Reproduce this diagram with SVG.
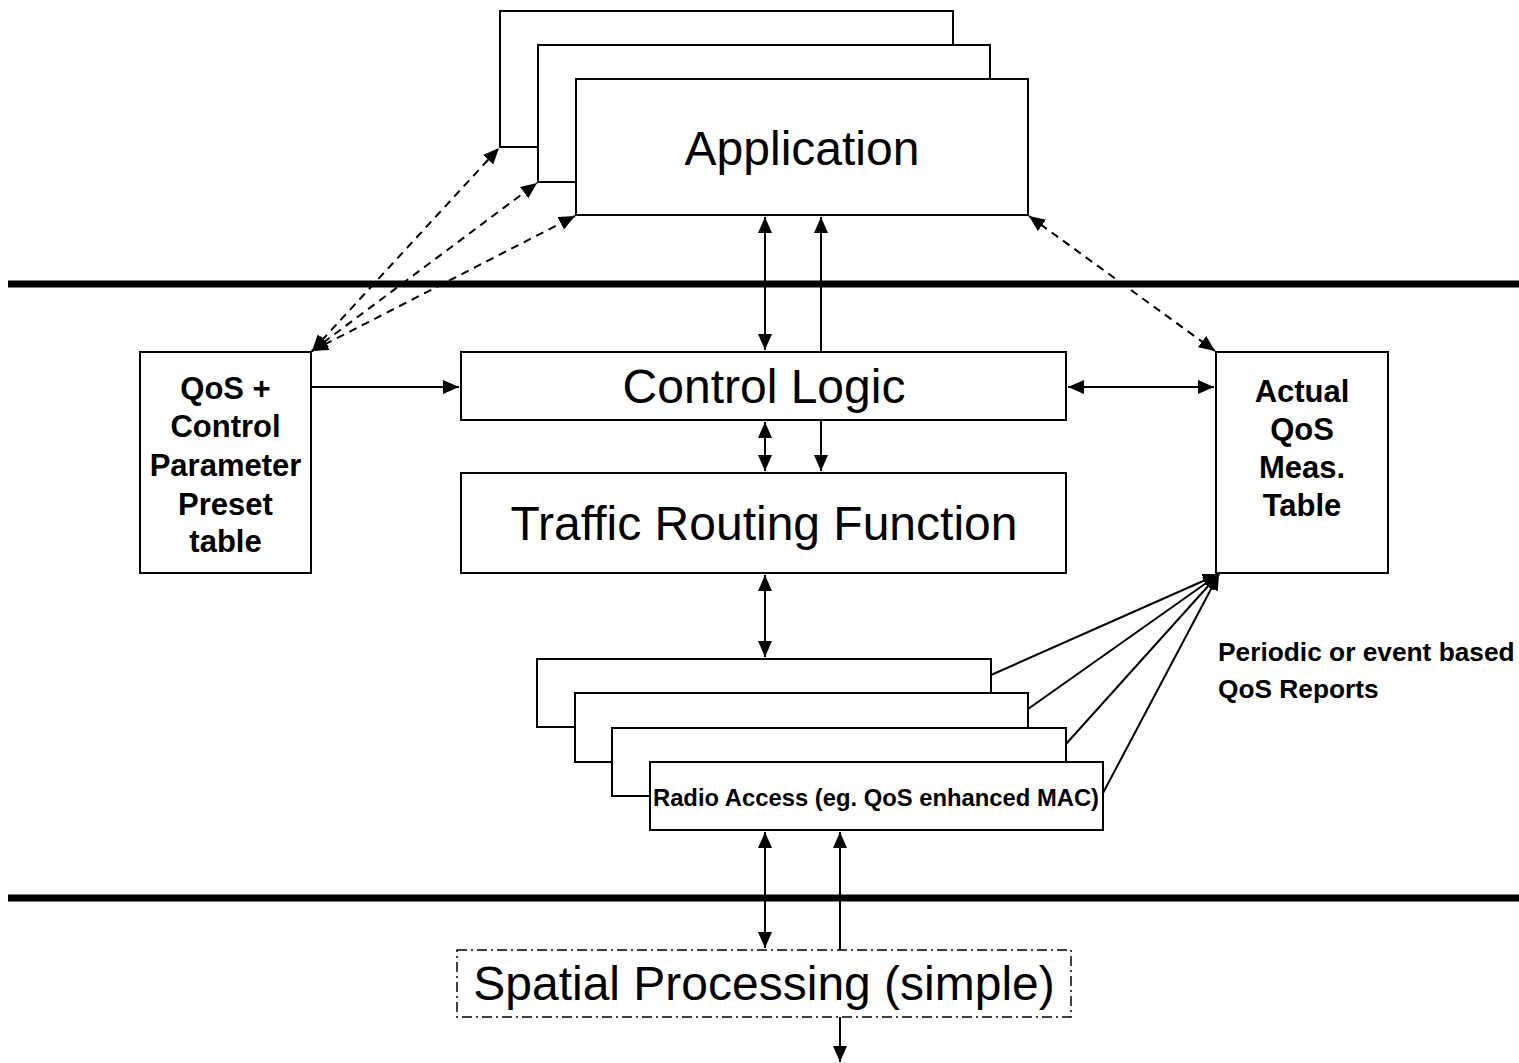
<svg xmlns="http://www.w3.org/2000/svg" width="1519" height="1063" viewBox="0 0 1519 1063">
<style>
.box{fill:#fff;stroke:#000;stroke-width:2}
.dbox{fill:#fff;stroke:#000;stroke-width:1.5;stroke-dasharray:10 4 2 4}
.big{font-family:"Liberation Sans",Arial,sans-serif;font-size:48px;text-anchor:middle;fill:#000}
.bold{font-family:"Liberation Sans",Arial,sans-serif;font-weight:bold;fill:#000}
.ln{fill:none;stroke:#000;stroke-width:2}
.dash{fill:none;stroke:#000;stroke-width:2;stroke-dasharray:8 6}
.bar{stroke:#000;stroke-width:7}
</style>
<defs>
<marker id="ah" markerUnits="userSpaceOnUse" markerWidth="18" markerHeight="16" refX="16" refY="7" orient="auto-start-reverse">
<path d="M0,0 L16,7 L0,14 z" fill="#000"/>
</marker>
</defs>
<g id="layers">
<line class="bar" x1="8" y1="284" x2="1519" y2="284"/>
<line class="bar" x1="8" y1="898" x2="1519" y2="898"/>
</g>
<g id="application">
<rect class="box" x="500" y="11" width="453" height="136"/>
<rect class="box" x="538" y="45" width="452" height="137"/>
<rect class="box" x="576" y="79" width="452" height="136"/>
<text class="big" x="802" y="165">Application</text>
</g>
<g id="qos-preset">
<rect class="box" x="140" y="352" width="171" height="221"/>
<text class="bold" font-size="31" text-anchor="middle"><tspan x="225.5" y="399">QoS +</tspan><tspan x="225.5" y="437">Control</tspan><tspan x="225.5" y="476">Parameter</tspan><tspan x="225.5" y="515">Preset</tspan><tspan x="225.5" y="552">table</tspan></text>
</g>
<g id="control-logic">
<rect class="box" x="461" y="352" width="605" height="68"/>
<text class="big" x="764" y="403">Control Logic</text>
</g>
<g id="traffic-routing">
<rect class="box" x="461" y="473" width="605" height="100"/>
<text class="big" x="764" y="540">Traffic Routing Function</text>
</g>
<g id="actual-qos">
<rect class="box" x="1216" y="352" width="172" height="221"/>
<text class="bold" font-size="31" text-anchor="middle"><tspan x="1302" y="402">Actual</tspan><tspan x="1302" y="440">QoS</tspan><tspan x="1302" y="478">Meas.</tspan><tspan x="1302" y="516">Table</tspan></text>
</g>
<g id="radio-access">
<rect class="box" x="537" y="659" width="454" height="68"/>
<rect class="box" x="575" y="693" width="453" height="69"/>
<rect class="box" x="612" y="728" width="454" height="68"/>
<rect class="box" x="650" y="762" width="453" height="68"/>
<text class="bold" font-size="23.8" x="876" y="806" text-anchor="middle">Radio Access (eg. QoS enhanced MAC)</text>
</g>
<g id="qos-reports-label">
<text class="bold" font-size="26.3"><tspan x="1218" y="661">Periodic or event based</tspan><tspan x="1218" y="698">QoS Reports</tspan></text>
</g>
<g id="spatial">
<rect class="dbox" x="457" y="950" width="614" height="67"/>
<text class="big" x="764" y="1000">Spatial Processing (simple)</text>
</g>
<g id="connectors">
<line class="ln" x1="765" y1="217" x2="765" y2="350" marker-start="url(#ah)" marker-end="url(#ah)"/>
<line class="ln" x1="821" y1="352" x2="821" y2="217" marker-end="url(#ah)"/>
<line class="ln" x1="765" y1="422" x2="765" y2="471" marker-start="url(#ah)" marker-end="url(#ah)"/>
<line class="ln" x1="821" y1="420" x2="821" y2="471" marker-end="url(#ah)"/>
<line class="ln" x1="765" y1="575" x2="765" y2="657" marker-start="url(#ah)" marker-end="url(#ah)"/>
<line class="ln" x1="765" y1="832" x2="765" y2="948" marker-start="url(#ah)" marker-end="url(#ah)"/>
<line class="ln" x1="840" y1="950" x2="840" y2="832" marker-end="url(#ah)"/>
<line class="ln" x1="840" y1="1017" x2="840" y2="1062" marker-end="url(#ah)"/>
<line class="ln" x1="311" y1="387" x2="459" y2="387" marker-end="url(#ah)"/>
<line class="ln" x1="1068" y1="387" x2="1214" y2="387" marker-start="url(#ah)" marker-end="url(#ah)"/>
<line class="dash" x1="312" y1="351" x2="499" y2="148" marker-start="url(#ah)" marker-end="url(#ah)"/>
<line class="dash" x1="312" y1="351" x2="537" y2="183" marker-start="url(#ah)" marker-end="url(#ah)"/>
<line class="dash" x1="312" y1="351" x2="575" y2="216" marker-start="url(#ah)" marker-end="url(#ah)"/>
<line class="dash" x1="1029" y1="216" x2="1215" y2="351" marker-start="url(#ah)" marker-end="url(#ah)"/>
<line class="ln" x1="991" y1="675" x2="1219" y2="574" marker-end="url(#ah)"/>
<line class="ln" x1="1028" y1="709" x2="1219" y2="574" marker-end="url(#ah)"/>
<line class="ln" x1="1066" y1="744" x2="1219" y2="574" marker-end="url(#ah)"/>
<line class="ln" x1="1103" y1="793" x2="1219" y2="574" marker-end="url(#ah)"/>
</g>
</svg>
